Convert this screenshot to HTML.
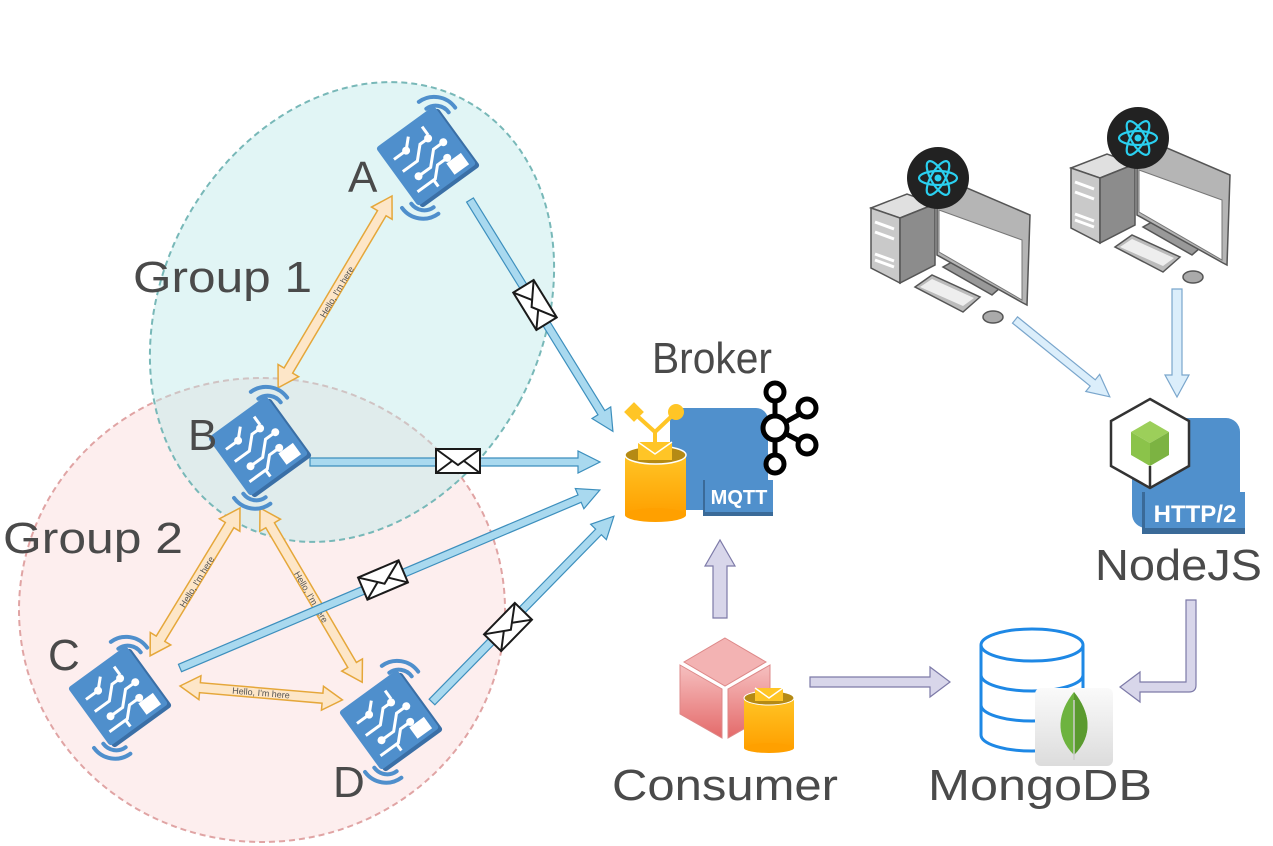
<!DOCTYPE html>
<html><head><meta charset="utf-8"><style>
html,body{margin:0;padding:0;background:#fff;}
svg{display:block;}
text{font-family:"Liberation Sans",sans-serif;}
</style></head><body>
<svg width="1273" height="846" viewBox="0 0 1273 846" xmlns="http://www.w3.org/2000/svg">
<defs>
  <linearGradient id="org" x1="0" y1="0" x2="0" y2="1"><stop offset="0" stop-color="#ffc526"/><stop offset="1" stop-color="#ffa000"/></linearGradient>
  <linearGradient id="pink" x1="0" y1="0" x2="0" y2="1"><stop offset="0" stop-color="#f6c0c0"/><stop offset="1" stop-color="#e46a6a"/></linearGradient>
  <linearGradient id="tile" x1="0" y1="0" x2="0" y2="1"><stop offset="0" stop-color="#fafafa"/><stop offset="1" stop-color="#dcdcdc"/></linearGradient>
  <g id="dev">
    <rect x="-36" y="-36" width="72" height="72" rx="3" fill="#3a6fa6"/>
    <rect x="-38" y="-40" width="72" height="72" rx="3" fill="#4f8fcc"/>
    <g stroke="#fff" stroke-width="3" fill="none">
      <path d="M-30,-20 H-15 L-5,-30"/><path d="M-30,-5 H-12 L0,-17 H10"/><path d="M-20,8 H-5 L8,-5 H20"/>
      <path d="M-30,20 H-8 L2,10 H14"/><path d="M-10,28 V20"/><path d="M12,-30 V-20"/>
    </g>
    <g fill="#fff"><circle cx="-15" cy="-20" r="4"/><circle cx="10" cy="-17" r="4"/><circle cx="20" cy="-5" r="4"/><circle cx="14" cy="10" r="4"/><circle cx="-20" cy="8" r="4"/><rect x="10" y="14" width="18" height="14"/></g>
    <g stroke="#4f8fcc" stroke-width="4" fill="none" stroke-linecap="round">
      <path d="M24,-52 A26,26 0 0 1 50,-26"/><path d="M26,-42 A16,16 0 0 1 42,-26"/>
      <path d="M-52,24 A26,26 0 0 0 -26,50"/><path d="M-42,26 A16,16 0 0 0 -26,42"/>
    </g>
  </g>
  <g id="env">
    <rect x="-22" y="-12" width="44" height="24" fill="#fff" stroke="#1a1a1a" stroke-width="2"/>
    <path d="M-22,-12 L0,4 L22,-12 M-22,12 L-6,0 M22,12 L6,0" stroke="#1a1a1a" stroke-width="2" fill="none"/>
  </g>
  <g id="pc">
    <polygon points="11,68 47,54 75,64 40,78" fill="#e0e0e0" stroke="#555" stroke-width="1.5"/>
    <polygon points="11,68 40,78 40,143 11,128" fill="#c9c9c9" stroke="#555" stroke-width="1.5"/>
    <polygon points="40,78 75,64 75,125 40,143" fill="#8c8c8c" stroke="#555" stroke-width="1.5"/>
    <g stroke="#fff" stroke-width="3"><line x1="15" y1="82" x2="34" y2="89"/><line x1="15" y1="92" x2="34" y2="99"/><line x1="15" y1="114" x2="34" y2="121"/><line x1="15" y1="120" x2="34" y2="127"/></g>
    <polygon points="83,127 92,122 140,148 132,155" fill="#999" stroke="#555" stroke-width="1.5"/>
    <polygon points="77,67 100,45 170,75 167,165 163,163 77,115" fill="#b5b5b5" stroke="#555" stroke-width="1.5"/>
    <polygon points="79,70 162,100 162,160 79,112" fill="#fff" stroke="#777" stroke-width="1"/>
    <polygon points="55,147 72,135 120,157 103,172" fill="#bbb" stroke="#555" stroke-width="1.5"/>
    <polygon points="60,147 72,139 114,158 103,166" fill="#eee"/>
    <ellipse cx="133" cy="177" rx="10" ry="6" fill="#aaa" stroke="#555" stroke-width="1.5"/>
    <circle cx="78" cy="38" r="31" fill="#222"/>
    <g stroke="#2ad0f0" stroke-width="2.2" fill="none">
      <ellipse cx="78" cy="38" rx="19" ry="7"/>
      <ellipse cx="78" cy="38" rx="19" ry="7" transform="rotate(60 78 38)"/>
      <ellipse cx="78" cy="38" rx="19" ry="7" transform="rotate(-60 78 38)"/>
    </g>
    <circle cx="78" cy="38" r="3.5" fill="#2ad0f0"/>
  </g>
</defs>

<!-- groups -->
<ellipse cx="262" cy="610" rx="243" ry="232" fill="#fdeeee" stroke="#e0a4a4" stroke-width="2" stroke-dasharray="6,4"/>
<ellipse cx="352" cy="312" rx="190" ry="240" transform="rotate(28 352 312)" fill="#bde8e8" fill-opacity="0.45" stroke="#78b8b8" stroke-width="2" stroke-dasharray="6,4"/>

<!-- orange double arrows -->
<g fill="#fde6c8" stroke="#e5a73a" stroke-width="1.5">
  <path transform="translate(392,196) rotate(120.7)" d="M0,0 L20,-12 L20,-5 L203,-5 L203,-12 L223,0 L203,12 L203,5 L20,5 L20,12 Z"/>
  <path transform="translate(240,508) rotate(121.3)" d="M0,0 L20,-12 L20,-5 L153,-5 L153,-12 L173,0 L153,12 L153,5 L20,5 L20,12 Z"/>
  <path transform="translate(260,508) rotate(59.6)" d="M0,0 L20,-12 L20,-5 L182,-5 L182,-12 L202,0 L182,12 L182,5 L20,5 L20,12 Z"/>
  <path transform="translate(180,686) rotate(4.9)" d="M0,0 L20,-12 L20,-5 L143,-5 L143,-12 L163,0 L143,12 L143,5 L20,5 L20,12 Z"/>
</g>
<g font-size="9" fill="#555" text-anchor="middle">
  <text transform="translate(337,292) rotate(-59.3)" y="3">Hello, I'm here</text>
  <text transform="translate(197,582) rotate(-58.7)" y="3">Hello, I'm here</text>
  <text transform="translate(311,597) rotate(59.6)" y="3">Hello, I'm here</text>
  <text transform="translate(261,693) rotate(4.9)" y="3">Hello, I'm here</text>
</g>

<!-- blue arrows -->
<g fill="#a9d9ef" stroke="#3d8fbd" stroke-width="1.2">
  <path transform="translate(470,200) rotate(58.3)" d="M0,-4 L250,-4 L250,-11 L272,0 L250,11 L250,4 L0,4 Z"/>
  <path transform="translate(310,462) rotate(0)" d="M0,-4 L268,-4 L268,-11 L290,0 L268,11 L268,4 L0,4 Z"/>
  <path transform="translate(180,668) rotate(-22.97)" d="M0,-4 L434,-4 L434,-11 L456,0 L434,11 L434,4 L0,4 Z"/>
  <path transform="translate(432,702) rotate(-45.6)" d="M0,-4 L238,-4 L238,-11 L260,0 L238,11 L238,4 L0,4 Z"/>
</g>
<use href="#env" transform="translate(535,305) rotate(58.3)"/>
<use href="#env" transform="translate(458,461)"/>
<use href="#env" transform="translate(383,580) rotate(-22.97)"/>
<use href="#env" transform="translate(508,627) rotate(-45.6)"/>

<!-- devices -->
<use href="#dev" transform="translate(430,158) rotate(-36) scale(1.0)"/>
<use href="#dev" transform="translate(262,448) rotate(-36) scale(1.0)"/>
<use href="#dev" transform="translate(122,698) rotate(-36) scale(1.0)"/>
<use href="#dev" transform="translate(393,722) rotate(-36) scale(1.0)"/>

<!-- labels -->
<g fill="#4a4a4a" font-size="44">
  <text x="348" y="192">A</text>
  <text x="188" y="450">B</text>
  <text x="48" y="670">C</text>
  <text x="333" y="797">D</text>
  <text x="133" y="292" textLength="179" lengthAdjust="spacingAndGlyphs">Group 1</text>
  <text x="3" y="553" textLength="180" lengthAdjust="spacingAndGlyphs">Group 2</text>
  <text x="652" y="373" textLength="120" lengthAdjust="spacingAndGlyphs">Broker</text>
  <text x="612" y="800" textLength="226" lengthAdjust="spacingAndGlyphs">Consumer</text>
  <text x="928" y="800" textLength="224" lengthAdjust="spacingAndGlyphs">MongoDB</text>
  <text x="1095" y="580" textLength="167" lengthAdjust="spacingAndGlyphs">NodeJS</text>
</g>

<!-- broker -->
<rect x="670" y="408" width="98" height="102" rx="12" fill="#5090cc"/>
<rect x="703" y="480" width="70" height="36" fill="#3a6a98"/>
<rect x="705" y="480" width="68" height="32" fill="#5090cc"/>
<text x="739" y="504" font-size="20" fill="#fff" text-anchor="middle" font-weight="bold" font-family="Liberation Mono, monospace">MQTT</text>
<rect x="625" y="455" width="61" height="60" fill="url(#org)"/>
<ellipse cx="655.5" cy="515" rx="30.5" ry="7" fill="#ffa000"/>
<ellipse cx="655.5" cy="455" rx="30.5" ry="9" fill="#b58a14" stroke="#fff" stroke-width="1.5"/>
<rect x="638" y="442" width="34" height="18" fill="#ffc526"/>
<path d="M638,442 L655,454 L672,442" stroke="#fff" stroke-width="1.5" fill="none"/>
<path d="M634,413 L655,432 L675,413 M655,432 V442" stroke="#ffc526" stroke-width="4" fill="none"/>
<rect x="627" y="405" width="14" height="14" transform="rotate(45 634 412)" fill="#ffc526"/>
<circle cx="676" cy="412" r="8" fill="#ffc526"/>
<g stroke="#000" stroke-width="5" fill="#fff">
  <line x1="775" y1="395" x2="775" y2="462"/><line x1="775" y1="428" x2="807" y2="410"/><line x1="775" y1="428" x2="807" y2="445"/>
  <circle cx="775" cy="392" r="9"/><circle cx="775" cy="428" r="12"/><circle cx="775" cy="464" r="9"/><circle cx="807" cy="408" r="9"/><circle cx="807" cy="445" r="9"/>
</g>

<!-- computers -->
<use href="#pc" transform="translate(860,140)"/>
<use href="#pc" transform="translate(1060,100)"/>
<g fill="#dbeefb" stroke="#7aa6cc" stroke-width="1.2">
  <path transform="translate(1015,320) rotate(39)" d="M0,-4 L100,-4 L100,-11 L122,0 L100,11 L100,4 L0,4 Z"/>
  <path transform="translate(1177,289) rotate(90)" d="M0,-5 L86,-5 L86,-12 L108,0 L86,12 L86,5 L0,5 Z"/>
</g>

<!-- nodejs -->
<rect x="1132" y="418" width="108" height="110" rx="14" fill="#5090cc"/>
<rect x="1142" y="492" width="103" height="42" fill="#3a6a98"/>
<rect x="1145" y="492" width="100" height="36" fill="#5090cc"/>
<text x="1195" y="522" font-size="24" fill="#fff" text-anchor="middle" font-weight="bold" font-family="Liberation Mono, monospace">HTTP/2</text>
<polygon points="1150,399 1189,421 1189,466 1150,488 1111,466 1111,421" fill="#fff" stroke="#333" stroke-width="2.5"/>
<line x1="1150" y1="466" x2="1150" y2="488" stroke="#333" stroke-width="2.5"/>
<polygon points="1150,421 1169,432 1150,443 1131,432" fill="#9ccf5a"/>
<polygon points="1131,432 1150,443 1150,466 1131,455" fill="#8bc34a"/>
<polygon points="1169,432 1150,443 1150,466 1169,455" fill="#7cb342"/>

<!-- purple arrows -->
<g fill="#d8d6ea" stroke="#7d7aa8" stroke-width="1.2">
  <path transform="translate(720,618) rotate(-90)" d="M0,-7 L52,-7 L52,-15 L78,0 L52,15 L52,7 L0,7 Z"/>
  <path transform="translate(810,682)" d="M0,-5 L120,-5 L120,-15 L140,0 L120,15 L120,5 L0,5 Z"/>
  <path d="M1186,600 L1196,600 L1196,685 Q1196,692 1189,692 L1140,692 L1140,702 L1120,687 L1140,672 L1140,682 L1186,682 Z"/>
</g>

<!-- consumer -->
<polygon points="725,638 766,662 725,686 684,662" fill="#f3b3b3" stroke="#d88" stroke-width="1"/>
<polygon points="680,665 722,689 722,738 680,714" fill="url(#pink)" stroke="#d88" stroke-width="1"/>
<polygon points="728,689 770,665 770,714 728,738" fill="url(#pink)" stroke="#d88" stroke-width="1"/>
<rect x="744" y="698" width="50" height="50" fill="url(#org)"/>
<ellipse cx="769" cy="748" rx="25" ry="5" fill="#ffa000"/>
<ellipse cx="769" cy="698" rx="25" ry="7" fill="#b58a14" stroke="#fff" stroke-width="1"/>
<rect x="755" y="688" width="28" height="13" fill="#ffc526"/>
<path d="M755,688 L769,698 L783,688" stroke="#fff" stroke-width="1.5" fill="none"/>

<!-- mongo -->
<g stroke="#1e88e5" stroke-width="3" fill="#fff">
  <path d="M981,645 V735 A51,16 0 0 0 1083,735 V645"/>
  <ellipse cx="1032" cy="645" rx="51" ry="16"/>
  <path d="M981,675 A51,16 0 0 0 1083,675 M981,705 A51,16 0 0 0 1083,705" fill="none"/>
</g>
<rect x="1035" y="688" width="78" height="78" rx="6" fill="url(#tile)"/>
<path d="M1074,692 C1058,712 1054,735 1074,755 C1094,735 1090,712 1074,692 Z" fill="#6db33f"/>
<path d="M1074,692 C1090,712 1094,735 1074,755 Z" fill="#5a9a2f"/>
<line x1="1074" y1="700" x2="1074" y2="760" stroke="#ccc" stroke-width="1.5"/>
</svg>
</body></html>
